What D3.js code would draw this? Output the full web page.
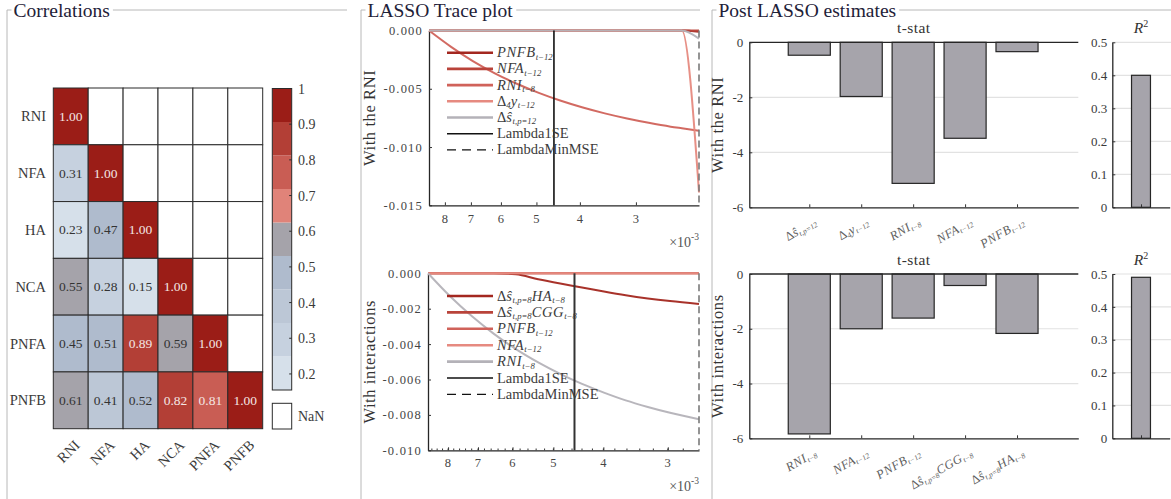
<!DOCTYPE html>
<html><head><meta charset="utf-8">
<script src="https://cdn.jsdelivr.net/npm/d3@7"></script>
<style>
html,body{margin:0;padding:0;background:#fff;}
svg{display:block;font-family:"Liberation Serif","Times New Roman",serif;}
</style></head>
<body>
<svg id="fig" width="1171" height="499"></svg>
<script>
// ---------- correlation matrix (lower triangle, row by row) ----------
const corrVars = ["RNI", "NFA", "HA", "NCA", "PNFA", "PNFB"];
const corrRNI  = [1.00];
const corrNFA  = [0.31, 1.00];
const corrHA   = [0.23, 0.47, 1.00];
const corrNCA  = [0.55, 0.28, 0.15, 1.00];
const corrPNFA = [0.45, 0.51, 0.89, 0.59, 1.00];
const corrPNFB = [0.61, 0.41, 0.52, 0.82, 0.81, 1.00];
const corrRows = [corrRNI, corrNFA, corrHA, corrNCA, corrPNFA, corrPNFB];
const colorbarTicks = [0.2, 0.3, 0.4, 0.5, 0.6, 0.7, 0.8, 0.9, 1];
const colorbarMin = 0.155;
const bandColors = ["#d6e0ea", "#c6d1df", "#bcc7d6", "#afbbcd", "#a5a3aa",
                    "#e08379", "#c95d54", "#b33f36", "#9b1d17"];

// ---------- LASSO traces (lambda in units of 1e-3, coefficients in units of 1e-3) ----------
const lambdaRNI   = [8.68, 7.75, 6.93, 6.19, 5.53, 4.94, 4.41, 3.94, 3.52, 3.14, 2.81, 2.51, 2.37, 2.17];
const tracePNFB_a = [0, 0, 0, 0, 0, 0, 0, 0, 0, 0, 0, 0, 0, -0.1];
const traceNFA_a  = [0, 0, 0, 0, 0, 0, 0, 0, 0, 0, 0, 0, 0, 0];
const traceRNI_a  = [0, -1.40, -2.62, -3.67, -4.57, -5.35, -6.03, -6.61, -7.11, -7.55, -7.92, -8.25, -8.39, -8.60];
const traceD4y_a  = [0, 0, 0, 0, 0, 0, 0, 0, 0, 0, 0, 0, 0, -13.9];
const traceDs_a   = [0, 0, 0, 0, 0, 0, 0, 0, 0, 0, 0, 0, 0, -0.7];
const namesTraceRNI = ["PNFB_{t-12}", "NFA_{t-12}", "RNI_{t-8}", "Δ_{4}y_{t-12}", "Δŝ_{t,p=12}"];
const lambda1SE_a = 4.57, lambdaMin_a = 2.17;
const yTicksTraceRNI = [0, -0.005, -0.010, -0.015];

const lambdaInt   = [8.75, 7.93, 7.19, 6.52, 5.91, 5.35, 4.85, 4.40, 3.99, 3.62, 3.28, 2.97, 2.61];
const traceHA_b   = [0, 0, 0, 0, -0.06, -0.34, -0.58, -0.80, -1.03, -1.24, -1.42, -1.57, -1.73];
const traceCGG_b  = [0, 0, 0, 0, 0, 0, 0, 0, 0, 0, 0, 0, 0];
const tracePNFB_b = [0, 0, 0, 0, 0, 0, 0, 0, 0, 0, 0, 0, 0];
const traceNFA_b  = [0, 0, 0, 0, 0, 0, 0, 0, 0, 0, 0, 0, 0];
const traceRNI_b  = [0, -1.30, -2.43, -3.42, -4.28, -5.03, -5.68, -6.25, -6.74, -7.18, -7.55, -7.88, -8.25];
const namesTraceInt = ["Δŝ_{t,p=8}HA_{t-8}", "Δŝ_{t,p=8}CGG_{t-8}", "PNFB_{t-12}", "NFA_{t-12}", "RNI_{t-8}"];
const lambda1SE_b = 4.55, lambdaMin_b = 2.61;
const yTicksTraceInt = [0, -0.002, -0.004, -0.006, -0.008, -0.010];

const lambdaTicks = [8, 7, 6, 5, 4, 3];
const traceColors = ["#a3271f", "#b9433a", "#d0625a", "#e68a80", "#b4b2b8"];

// ---------- post-LASSO estimates ----------
const estNamesRNI = ["Δŝ_{t,p=12}", "Δ_{4}y_{t-12}", "RNI_{t-8}", "NFA_{t-12}", "PNFB_{t-12}"];
const tstatRNI    = [-0.47, -1.97, -5.13, -3.49, -0.34];
const r2RNI       = 0.40;
const estNamesInt = ["RNI_{t-8}", "NFA_{t-12}", "PNFB_{t-12}", "Δŝ_{t,p=8}CGG_{t-8}", "Δŝ_{t,p=8}HA_{t-8}"];
const tstatInt    = [-5.84, -2.00, -1.61, -0.42, -2.17];
const r2Int       = 0.49;
const tstatTicks  = [0, -2, -4, -6];
const r2Ticks     = [0, 0.1, 0.2, 0.3, 0.4, 0.5];

// ---------------------------------------------------------------
const svg = d3.select("#fig");
const SERIF = "Liberation Serif";
const loc = d3.formatLocale({decimal: ".", thousands: ",", grouping: [3], currency: ["", ""], minus: "-"});
const TXT = "#3a3a3a";

// text with LaTeX-like subscripts: "NFA_{t-12}"
function mathText(sel, str, size) {
  const parts = str.split(/(_\{[^}]*\})/).filter(s => s.length);
  let shift = 0;
  const sub = size * 0.17;
  parts.forEach(p => {
    if (p.startsWith("_{")) {
      const t = p.slice(2, -1).replace(/-/g, "\u2212");
      sel.append("tspan").attr("font-size", size * 0.6).attr("font-style", "italic")
        .attr("dy", sub - shift).text(t);
      shift = sub;
    } else {
      p.split(/(Δ)/).filter(s => s.length).forEach(q => {
        const ts = sel.append("tspan").attr("font-size", size)
          .attr("font-style", q === "Δ" ? "normal" : "italic")
          .attr("letter-spacing", q === "Δ" ? 0 : 0.6).text(q);
        if (shift) ts.attr("dy", -shift);
        shift = 0;
      });
    }
  });
}

// etched panel frame with its title
function panel(x0, x1, title) {
  svg.append("path").attr("d", `M${x0},520V10H${x1}`)
    .attr("fill", "none").attr("stroke", "#b8b8b8").attr("stroke-width", 1);
  const t = svg.append("text").attr("x", x0 + 6.5).attr("y", 16.5).attr("font-family", SERIF)
    .attr("font-size", 19.5).attr("fill", "#1e2138").text(title);
  const bb = t.node().getBBox();
  svg.insert("rect", () => t.node()).attr("x", bb.x - 2).attr("y", bb.y)
    .attr("width", bb.width + 5).attr("height", bb.height).attr("fill", "#fff");
}
panel(7, 347, "Correlations");
panel(361, 700, "LASSO Trace plot");
panel(712, 1175, "Post LASSO estimates");

// ---------- correlation heatmap ----------
(function () {
  const hx = d3.scaleBand().domain(corrVars).range([53.3, 262.7]);
  const hy = d3.scaleBand().domain(corrVars).range([88, 428.7]);
  const color = d3.scaleQuantize().domain([colorbarMin, 1]).range(bandColors);
  const g = svg.append("g").attr("font-family", SERIF);
  corrVars.forEach((rv, i) => corrVars.forEach((cv, j) => {
    const v = j <= i ? corrRows[i][j] : null;
    g.append("rect").attr("x", hx(cv)).attr("y", hy(rv))
      .attr("width", hx.bandwidth()).attr("height", hy.bandwidth())
      .attr("fill", v == null ? "#fff" : color(v)).attr("stroke", "#2b2b2b").attr("stroke-width", 1);
    if (v != null) {
      g.append("text").attr("x", hx(cv) + hx.bandwidth() / 2).attr("y", hy(rv) + hy.bandwidth() / 2 + 4.5)
        .attr("text-anchor", "middle").attr("font-size", 13.5)
        .attr("fill", v >= 0.7 ? "#f4e6e4" : "#333").text(d3.format(".2f")(v));
    }
  }));
  corrVars.forEach(v => {
    g.append("text").attr("x", 46).attr("y", hy(v) + hy.bandwidth() / 2 + 5)
      .attr("text-anchor", "end").attr("font-size", 14.5).attr("fill", TXT).text(v);
    const cx = hx(v) + hx.bandwidth() / 2 + 10;
    g.append("text").attr("transform", `translate(${cx},446) rotate(-45)`)
      .attr("text-anchor", "end").attr("font-size", 14.5).attr("fill", TXT).text(v);
  });

  // colour bar
  const cbY = d3.scaleLinear().domain([colorbarMin, 1]).range([390, 88.5]);
  const cbX = 272.3, cbW = 19.4;
  bandColors.forEach(c => {
    const [lo, hi] = color.invertExtent(c);
    g.append("rect").attr("x", cbX).attr("y", cbY(hi)).attr("width", cbW)
      .attr("height", cbY(lo) - cbY(hi)).attr("fill", c);
  });
  g.append("rect").attr("x", cbX).attr("y", cbY(1)).attr("width", cbW)
    .attr("height", cbY(colorbarMin) - cbY(1)).attr("fill", "none").attr("stroke", "#2b2b2b");
  colorbarTicks.forEach(t => {
    g.append("line").attr("x1", cbX + cbW - 2.5).attr("x2", cbX + cbW).attr("y1", cbY(t)).attr("y2", cbY(t))
      .attr("stroke", "#2b2b2b");
    g.append("text").attr("x", 298).attr("y", cbY(t) + 5).attr("font-size", 14)
      .attr("fill", TXT).text(t === 1 ? "1" : d3.format(".1f")(t));
  });
  g.append("rect").attr("x", cbX).attr("y", 403.3).attr("width", cbW).attr("height", 25.7)
    .attr("fill", "#fff").attr("stroke", "#2b2b2b");
  g.append("text").attr("x", 298).attr("y", 421).attr("font-size", 14).attr("fill", TXT).text("NaN");
})();

// ---------- LASSO trace panels ----------
function tracePanel(o) {
  const g = svg.append("g").attr("font-family", SERIF);
  const x = d3.scaleLog().domain([d3.max(o.lambda), d3.min(o.lambda)]).range([o.x0, o.x1]);
  const y = d3.scaleLinear().domain([d3.min(o.yTicks), 0]).range([o.y1, o.y0]);

  const ya = g.append("g").attr("transform", `translate(${o.x0},0)`)
    .call(d3.axisLeft(y).tickValues(o.yTicks).tickFormat(loc.format(".3f"))
      .tickSize(-3).tickSizeOuter(0).tickPadding(6));
  const xa = g.append("g").attr("transform", `translate(0,${o.y1})`)
    .call(d3.axisBottom(x).tickValues(lambdaTicks).tickFormat(d3.format("d"))
      .tickSize(-3).tickSizeOuter(0).tickPadding(o.xPad));
  if (o.minor) {
    const minors = d3.range(2.6, 8.8, 0.2).filter(v => x(v) > o.x0 + 1 && x(v) < o.x1 - 1);
    g.selectAll(null).data(minors).enter().append("line")
      .attr("x1", d => x(d)).attr("x2", d => x(d)).attr("y1", o.y1).attr("y2", o.y1 - 1.8)
      .attr("stroke", "#333");
  }
  [ya, xa].forEach(a => {
    a.select(".domain").attr("stroke", "#262626").attr("stroke-width", 1.3);
    a.selectAll(".tick line").attr("stroke", "#333");
    a.selectAll("text").attr("font-family", SERIF).attr("font-size", 12.5)
      .attr("letter-spacing", 1.2).attr("fill", "#454545");
  });

  // coefficient paths (values stored in units of 1e-3)
  const line = d3.line().x((d, i) => x(o.lambda[i])).y(d => y(d * 1e-3)).curve(d3.curveMonotoneX);
  o.series.forEach((s, k) => {
    g.append("path").datum(s).attr("d", line).attr("fill", "none")
      .attr("stroke", traceColors[k]).attr("stroke-width", 2).attr("stroke-opacity", 0.95);
  });
  g.append("line").attr("x1", x(o.l1se)).attr("x2", x(o.l1se)).attr("y1", o.y0).attr("y2", o.y1)
    .attr("stroke", o.l1seColor).attr("stroke-width", o.l1seWidth);
  g.append("line").attr("x1", x(o.lmin)).attr("x2", x(o.lmin)).attr("y1", o.y0).attr("y2", o.y1)
    .attr("stroke", "#7a7a7a").attr("stroke-width", 1.6).attr("stroke-dasharray", "7,4");

  // legend
  const items = o.names.map((n, k) => ({name: n, color: traceColors[k], dash: null, w: 2.6, math: true}))
    .concat([{name: "Lambda1SE", color: "#111", dash: null, w: 1.4, math: false},
             {name: "LambdaMinMSE", color: "#111", dash: "9,6", w: 1.4, math: false}]);
  items.forEach((it, k) => {
    const ly = o.legY + k * o.legStep;
    g.append("line").attr("x1", 447).attr("x2", 493).attr("y1", ly).attr("y2", ly)
      .attr("stroke", it.color).attr("stroke-width", it.w).attr("stroke-dasharray", it.dash);
    const t = g.append("text").attr("x", 497).attr("y", ly + 4.5).attr("fill", "#3c3c3c").attr("font-size", 14.5);
    if (it.math) mathText(t, it.name, 14.5); else t.text(it.name);
  });

  const e = g.append("text").attr("x", o.x1).attr("y", o.expY).attr("text-anchor", "end")
    .attr("font-size", 14).attr("fill", "#555");
  e.append("tspan").text("×10");
  e.append("tspan").attr("font-size", 9.5).attr("dy", -7).text("-3");
  g.append("text").attr("transform", `translate(${o.labX},${(o.y0 + o.y1) / 2}) rotate(-90)`)
    .attr("text-anchor", "middle").attr("font-size", 16.5).attr("letter-spacing", 0.6)
    .attr("fill", "#333").text(o.ylabel);
}

tracePanel({lambda: lambdaRNI, series: [tracePNFB_a, traceNFA_a, traceRNI_a, traceD4y_a, traceDs_a],
  names: namesTraceRNI, yTicks: yTicksTraceRNI, l1se: lambda1SE_a, lmin: lambdaMin_a,
  x0: 429, x1: 699, y0: 30.5, y1: 205.3, xPad: 9, minor: false,
  l1seColor: "#111", l1seWidth: 1.6, legY: 52.7, legStep: 16.2, expY: 247,
  labX: 375, ylabel: "With the RNI"});
tracePanel({lambda: lambdaInt, series: [traceHA_b, traceCGG_b, tracePNFB_b, traceNFA_b, traceRNI_b],
  names: namesTraceInt, yTicks: yTicksTraceInt, l1se: lambda1SE_b, lmin: lambdaMin_b,
  x0: 428, x1: 699, y0: 273.3, y1: 450.3, xPad: 8, minor: true,
  l1seColor: "#333", l1seWidth: 2, legY: 296, legStep: 16.4, expY: 491,
  labX: 375, ylabel: "With interactions"});

// ---------- post-LASSO bar panels ----------
function estPanel(o) {
  const g = svg.append("g").attr("font-family", SERIF);
  const x = d3.scaleLinear().domain([-0.155, 6.18]).range([749.3, 1078.3]);
  const y = d3.scaleLinear().domain([d3.min(o.yTicks), 0]).range([o.y1, o.y0]);
  const idx = o.names.map((n, i) => i + 1);

  o.yTicks.filter(t => t !== 0 && t !== d3.min(o.yTicks)).forEach(t => {
    g.append("line").attr("x1", 749.3).attr("x2", 1078.3).attr("y1", y(t)).attr("y2", y(t))
      .attr("stroke", "#e2e2e2").attr("stroke-width", 1.2);
  });
  g.selectAll(null).data(o.values).enter().append("rect")
    .attr("x", (d, i) => x(idx[i] - 0.405)).attr("width", x(0.81) - x(0))
    .attr("y", y(0)).attr("height", d => y(d) - y(0))
    .attr("fill", "#a6a4ab").attr("stroke", "#262626").attr("stroke-width", 1.2);

  g.append("line").attr("x1", 749.3).attr("x2", 1078.3).attr("y1", y(0)).attr("y2", y(0))
    .attr("stroke", "#262626").attr("stroke-width", 1.3);
  const ya = g.append("g").attr("transform", "translate(749.3,0)")
    .call(d3.axisLeft(y).tickValues(o.yTicks).tickFormat(loc.format("d")).tickSize(-3).tickSizeOuter(0).tickPadding(6));
  const xa = g.append("g").attr("transform", `translate(0,${o.y1})`)
    .call(d3.axisBottom(x).tickValues(idx).tickFormat("").tickSize(-3).tickSizeOuter(0));
  [ya, xa].forEach(a => {
    a.select(".domain").attr("stroke", "#262626").attr("stroke-width", 1.3);
    a.selectAll(".tick line").attr("stroke", "#333");
    a.selectAll("text").attr("font-family", SERIF).attr("font-size", 13).attr("fill", "#3a3a3a");
  });
  o.names.forEach((n, i) => {
    const t = g.append("text").attr("transform", `translate(${x(idx[i]) + 4},${o.y1 + 10}) rotate(-30)`)
      .attr("y", 8).attr("text-anchor", "end").attr("fill", "#5e5e5e");
    mathText(t, n, 12.5);
  });
  g.append("text").attr("x", (749.3 + 1078.3) / 2).attr("y", o.y0 - 9).attr("text-anchor", "middle")
    .attr("font-size", 15.5).attr("letter-spacing", 0.4).attr("fill", "#333").text("t-stat");
  g.append("text").attr("transform", `translate(723,${(o.y0 + o.y1) / 2}) rotate(-90)`)
    .attr("text-anchor", "middle").attr("font-size", 16.5).attr("letter-spacing", 0.6)
    .attr("fill", "#333").text(o.ylabel);

  // R^2
  const rx = d3.scaleLinear().domain([0, 2]).range([1112.3, 1169.7]);
  const ry = d3.scaleLinear().domain([0, 0.5]).range([o.y1, o.y0]);
  r2Ticks.filter(t => t > 0).forEach(t => {
    g.append("line").attr("x1", 1112.3).attr("x2", 1171).attr("y1", ry(t)).attr("y2", ry(t))
      .attr("stroke", "#e2e2e2").attr("stroke-width", 1.2);
  });
  g.append("rect").attr("x", rx(1 - 0.33)).attr("width", rx(0.66) - rx(0))
    .attr("y", ry(o.r2)).attr("height", ry(0) - ry(o.r2))
    .attr("fill", "#a6a4ab").attr("stroke", "#262626").attr("stroke-width", 1.2);
  const ra = g.append("g").attr("transform", "translate(1112.3,0)")
    .call(d3.axisLeft(ry).tickValues(r2Ticks).tickFormat(d => d === 0 ? "0" : d3.format(".1f")(d))
      .tickSize(-3).tickSizeOuter(0).tickPadding(5));
  const rb = g.append("g").attr("transform", `translate(0,${o.y1})`)
    .call(d3.axisBottom(rx).tickValues([1]).tickFormat("").tickSize(-3).tickSizeOuter(0));
  [ra, rb].forEach(a => {
    a.select(".domain").attr("stroke", "#262626").attr("stroke-width", 1.3);
    a.selectAll(".tick line").attr("stroke", "#333");
    a.selectAll("text").attr("font-family", SERIF).attr("font-size", 13).attr("fill", "#3a3a3a");
  });
  const rt = g.append("text").attr("x", rx(1)).attr("y", o.y0 - 9).attr("text-anchor", "middle")
    .attr("font-size", 15.5).attr("fill", "#333");
  rt.append("tspan").attr("font-style", "italic").text("R");
  rt.append("tspan").attr("font-size", 10).attr("dy", -6).text("2");
}
estPanel({names: estNamesRNI, values: tstatRNI, r2: r2RNI, yTicks: tstatTicks, y0: 42.3, y1: 207.3, ylabel: "With the RNI"});
estPanel({names: estNamesInt, values: tstatInt, r2: r2Int, yTicks: tstatTicks, y0: 274, y1: 438.3, ylabel: "With interactions"});
</script>
</body></html>
